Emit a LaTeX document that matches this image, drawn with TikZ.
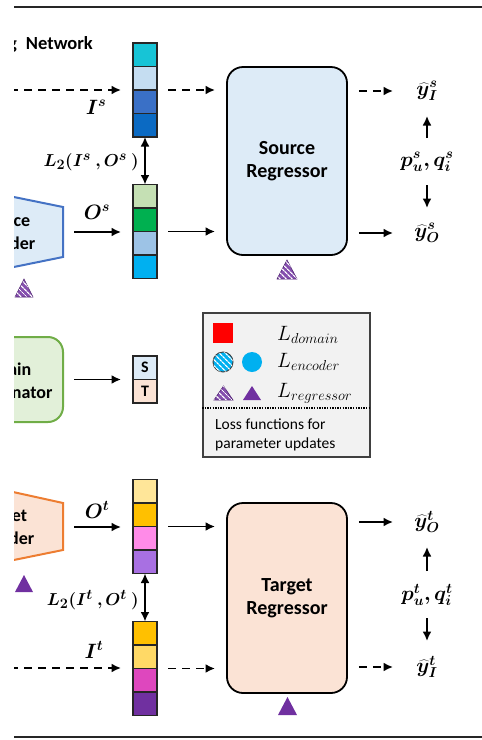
\documentclass[tikz,border=0pt]{standalone}
\usepackage{fontspec}
\setmainfont{Carlito}
\usepackage{bm}
\usetikzlibrary{arrows.meta,patterns.meta}

% palette
\definecolor{srcfill}{HTML}{DDEBF7}
\definecolor{tgtfill}{HTML}{FBE3D5}
\definecolor{encblue}{HTML}{4472C4}
\definecolor{encorange}{HTML}{ED7D31}
\definecolor{discfill}{HTML}{E2F0D9}
\definecolor{discgreen}{HTML}{70AD47}
\definecolor{lossred}{HTML}{FF0000}
\definecolor{losscyan}{HTML}{00B0F0}
\definecolor{losspurple}{HTML}{7030A0}
\definecolor{legendfill}{HTML}{F2F2F2}
\definecolor{legendedge}{HTML}{404040}
% vector cells
\definecolor{isA}{HTML}{17C4D6}
\definecolor{isB}{HTML}{C5DDF1}
\definecolor{isC}{HTML}{3A70C6}
\definecolor{isD}{HTML}{0B6AC3}
\definecolor{osA}{HTML}{C5E0B4}
\definecolor{osB}{HTML}{00B050}
\definecolor{osC}{HTML}{9DC3E6}
\definecolor{osD}{HTML}{00B0F0}
\definecolor{otA}{HTML}{FFE699}
\definecolor{otB}{HTML}{FFC000}
\definecolor{otC}{HTML}{FF8BE8}
\definecolor{otD}{HTML}{A870E2}
\definecolor{itA}{HTML}{FFC000}
\definecolor{itB}{HTML}{FFD966}
\definecolor{itC}{HTML}{DE47BE}
\definecolor{itD}{HTML}{7030A0}

\begin{document}
\begin{tikzpicture}[x=1pt,y=-1pt,
  arr/.style={line width=1.8pt,-{Latex[length=9.5pt,width=9pt]}},
  dsh/.style={arr,dash pattern=on 8pt off 6pt},
  dbl/.style={line width=1.8pt,{Latex[length=9.5pt,width=9pt]}-{Latex[length=9.5pt,width=9pt]}},
  vec/.style={minimum width=24pt,minimum height=94pt,inner sep=0pt,outer sep=0pt},
  cell/.style={draw=black!85,line width=1.3pt,minimum width=24pt,minimum height=23.5pt,inner sep=0pt,outer sep=0pt,anchor=north},
  reg/.style={draw=black,line width=1.8pt,rounded corners=16pt,minimum width=120pt,
    align=center,font=\fontsize{20}{23.5}\selectfont\bfseries,inner sep=0pt},
  enctext/.style={align=center,font=\fontsize{18}{23}\selectfont\bfseries,inner sep=0pt},
  mlabel/.style={font=\fontsize{21}{24}\selectfont,inner sep=0pt},
  leglabel/.style={font=\fontsize{22}{26}\selectfont,inner sep=0pt,anchor=west},
  legtext/.style={font=\fontsize{15.5}{19}\selectfont,inner sep=0pt,anchor=base west},
  hatch/.style={postaction={pattern={Lines[angle=-45,distance=4pt,line width=1.4pt]},pattern color=white}},
]
\useasboundingbox (0,0) rectangle (482,740);

% rules above and below
\draw[line width=2pt,black!85] (14,7) -- (482,7);
\draw[line width=2pt,black!85] (14,737) -- (482,737);

\begin{scope}
\clip (14,0) rectangle (482,740);

% heading
\node[anchor=base east,inner sep=0pt,font=\fontsize{18.5}{22}\selectfont\bfseries] (title) at (93,49) {g\hspace{5pt} Network};

% ---------- encoders and discriminator (cut at the left edge) ----------
\draw[draw=encblue,fill=srcfill,line width=2pt] (-55,183) -- (63,207) -- (63,257) -- (-55,281) -- cycle;
\node[enctext] (sencT) at (5,232.5) {Source\\Encoder};
\coordinate (senc) at (63,232);

\draw[draw=discgreen,fill=discfill,line width=2pt,rounded corners=15pt] (-70,337) rectangle (63,422);
\node[enctext] (discT) at (2,380.5) {Domain\\Discriminator};
\coordinate (disc) at (63,379.5);

\draw[draw=encorange,fill=tgtfill,line width=2pt] (-55,477) -- (63,503) -- (63,550) -- (-55,574) -- cycle;
\node[enctext] (tencT) at (4,527) {Target\\Encoder};
\coordinate (tenc) at (63,527);

% ---------- feature vectors ----------
\node[vec] (vIs) at (145,90) {};
\foreach \c [count=\k] in {isA,isB,isC,isD}
  \node[cell,fill=\c] (vIs-\k) at ([yshift={-(\k-1)*23.5pt}]vIs.north) {};
\node[vec] (vOs) at (145,231.5) {};
\foreach \c [count=\k] in {osA,osB,osC,osD}
  \node[cell,fill=\c] (vOs-\k) at ([yshift={-(\k-1)*23.5pt}]vOs.north) {};
\node[vec] (vOt) at (145,526.5) {};
\foreach \c [count=\k] in {otA,otB,otC,otD}
  \node[cell,fill=\c] (vOt-\k) at ([yshift={-(\k-1)*23.5pt}]vOt.north) {};
\node[vec] (vIt) at (145,668.5) {};
\foreach \c [count=\k] in {itA,itB,itC,itD}
  \node[cell,fill=\c] (vIt-\k) at ([yshift={-(\k-1)*23.5pt}]vIt.north) {};

% domain label box
\node[vec,minimum height=47pt] (st) at (145,379.5) {};
\node[cell,fill=srcfill,font=\fontsize{16}{18}\selectfont\bfseries] (stS) at (st.north) {S};
\node[cell,fill=tgtfill,font=\fontsize{16}{18}\selectfont\bfseries] (stT) at ([yshift=-23.5pt]st.north) {T};

% ---------- regressors ----------
\node[reg,fill=srcfill,minimum height=188pt] (sreg) at (287,161) {Source\\Regressor};
\node[reg,fill=tgtfill,minimum height=190pt] (treg) at (287,598) {Target\\Regressor};

% ---------- outputs ----------
\node[mlabel] (yIs) at (427,91) {$\bm{\widehat{y}^{s}_{I}}$};
\node[mlabel] (yOs) at (427,233) {$\bm{\widehat{y}^{s}_{O}}$};
\node[mlabel] (pS) at (427,162) {$\bm{p^{s}_{u}, q^{s}_{i}}$};
\node[mlabel] (yOt) at (427,522) {$\bm{\widehat{y}^{t}_{O}}$};
\node[mlabel] (yIt) at (427,667) {$\bm{\widehat{y}^{t}_{I}}$};
\node[mlabel] (pT) at (427,595) {$\bm{p^{t}_{u}, q^{t}_{i}}$};

% ---------- labels on the connectors ----------
\node[mlabel] (lIs) at (96,107) {$\bm{I^{s}}$};
\node[mlabel] (lOs) at (97,212) {$\bm{O^{s}}$};
\node[mlabel,anchor=east,font=\fontsize{19}{23}\selectfont] (lLs) at (139,162) {$\bm{L_2(I^{s}\ ,O^{s}\ )}$};
\node[mlabel] (lOt) at (97,510) {$\bm{O^{t}}$};
\node[mlabel,anchor=east,font=\fontsize{19}{23}\selectfont] (lLt) at (139,600) {$\bm{L_2(I^{t}\ ,O^{t}\ )}$};
\node[mlabel] (lIt) at (94,650) {$\bm{I^{t}}$};

% ---------- connectors: source branch ----------
\coordinate (inS) at (10,90);
\draw[dsh,shorten >=24pt] (inS) -- (vIs.center);
\draw[dsh,shorten <=23pt,shorten >=72pt] (vIs.center) -- (vIs.center -| sreg.center);
\draw[arr,shorten <=11pt,shorten >=24pt] (senc) -- (senc -| vOs.center);
\draw[arr,shorten <=23pt,shorten >=72pt] (vOs.center) -- (vOs.center -| sreg.center);
\draw[dbl] (vIs.south) -- (vOs.north);
\draw[dsh,shorten <=11pt,shorten >=34pt] (sreg.east |- yIs.center) -- (yIs.center);
\draw[arr,shorten <=11pt,shorten >=34pt] (sreg.east |- yOs.center) -- (yOs.center);
\draw[arr,shorten <=24pt,shorten >=25pt] (pS.center) -- (yIs.center);
\draw[arr,shorten <=23pt,shorten >=25pt] (pS.center) -- (yOs.center);

% ---------- connectors: discriminator ----------
\draw[arr,shorten <=11pt,shorten >=24pt] (disc) -- (disc -| st.center);

% ---------- connectors: target branch ----------
\draw[arr,shorten <=11pt,shorten >=24pt] (tenc) -- (tenc -| vOt.center);
\draw[arr,shorten <=23pt,shorten >=72pt] (vOt.center) -- (vOt.center -| treg.center);
\coordinate (inT) at (10,668);
\draw[dsh,shorten >=24pt] (inT) -- (inT -| vIt.center);
\draw[dsh,shorten <=23pt,shorten >=72pt] (vIt.center) -- (vIt.center -| treg.center);
\draw[dbl] (vOt.south) -- (vIt.north);
\draw[arr,shorten <=11pt,shorten >=34pt] (treg.east |- yOt.center) -- (yOt.center);
\draw[dsh,shorten <=11pt,shorten >=34pt] (treg.east |- yIt.center) -- (yIt.center);
\draw[arr,shorten <=24pt,shorten >=25pt] (pT.center) -- (yOt.center);
\draw[arr,shorten <=23pt,shorten >=26pt] (pT.center) -- (yIt.center);

% ---------- loss markers ----------
\draw[draw=losspurple!70!black,line width=0.6pt,fill=losspurple!85!white,hatch] (15,297) -- (33,297) -- (24,279) -- cycle;
\draw[draw=losspurple!70!black,line width=0.6pt,fill=losspurple!85!white,hatch] (277,279) -- (297,279) -- (287,260) -- cycle;
\fill[losspurple] (15,592) -- (33,592) -- (24,575) -- cycle;
\fill[losspurple] (278,715) -- (297,715) -- (287.5,697) -- cycle;

% ---------- legend ----------
\node[draw=legendedge,fill=legendfill,line width=1.5pt,minimum width=167pt,minimum height=144pt,inner sep=0pt] (legend) at (286.5,385) {};
\fill[lossred] (213,323) rectangle (233,343);
\fill[losscyan] (223,362) circle (10);
\draw[draw=legendedge,line width=0.9pt,fill=losscyan,hatch] (223,362) circle (10);
\fill[losscyan] (252,362) circle (10);
\draw[draw=losspurple!70!black,line width=0.6pt,fill=losspurple!85!white,hatch] (214,400) -- (233,400) -- (223.5,386) -- cycle;
\fill[losspurple] (243,400) -- (261,400) -- (252,386) -- cycle;
\node[leglabel] (ldom) at (277,335) {$L_{domain}$};
\node[leglabel] (lenc) at (277,362) {$L_{encoder}$};
\node[leglabel] (lreg) at (277,393) {$L_{regressor}$};
\draw[line width=1.3pt,dash pattern=on 1.3pt off 1.3pt] (legend.west |- 0,408) -- (legend.east |- 0,408);
\node[legtext] (lt1) at (215,429) {Loss functions for};
\node[legtext] (lt2) at (215,448) {parameter updates};

\end{scope}
\end{tikzpicture}
\end{document}
